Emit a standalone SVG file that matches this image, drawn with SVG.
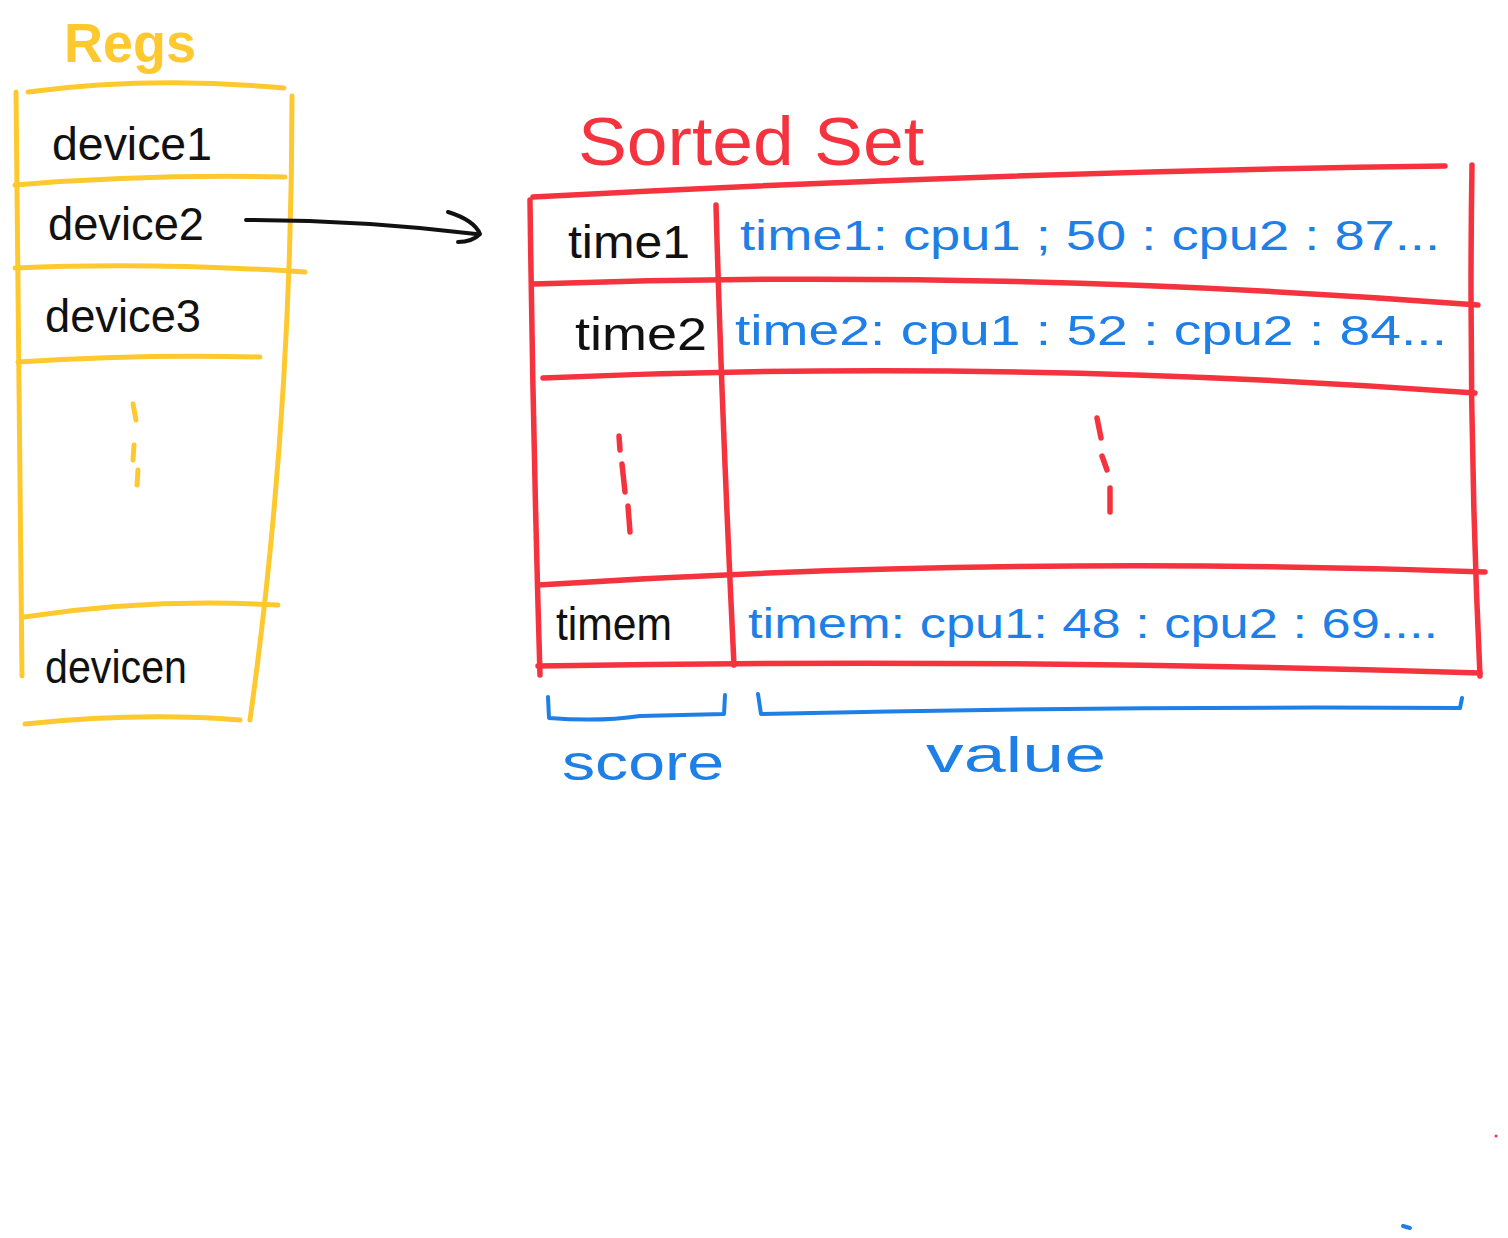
<svg xmlns="http://www.w3.org/2000/svg" width="1508" height="1238" viewBox="0 0 1508 1238">
<style>
.y{fill:none;stroke:#FDC92F;stroke-width:5;stroke-linecap:round;stroke-linejoin:round}
.r{fill:none;stroke:#F5333F;stroke-width:5.5;stroke-linecap:round;stroke-linejoin:round}
.b{fill:none;stroke:#1E7FE6;stroke-width:4;stroke-linecap:round;stroke-linejoin:round}
.k{fill:none;stroke:#111;stroke-width:4;stroke-linecap:round;stroke-linejoin:round}
text{font-family:"Liberation Sans","DejaVu Sans",sans-serif}
.tk{fill:#111;font-size:46px}
.tb{fill:#1E7FE6;font-size:42px}
</style>
<rect width="1508" height="1238" fill="#fff"/>

<g id="regs">
  <text x="64" y="62" fill="#FDC92F" font-size="56" font-weight="bold" textLength="132" lengthAdjust="spacingAndGlyphs">Regs</text>
  <path class="y" d="M28,92 Q150,76 284,88"/>
  <path class="y" d="M16,92 Q18,400 22,676"/>
  <path class="y" d="M292,96 Q292,420 250,720"/>
  <path class="y" d="M15,185 Q150,174 285,177"/>
  <path class="y" d="M15,268 Q150,262 305,272"/>
  <path class="y" d="M18,362 Q140,354 260,357"/>
  <path class="y" d="M24,617 Q150,598 278,605"/>
  <path class="y" d="M25,724 Q140,712 240,720"/>
  <path class="y" d="M133,404 L136,420 M134,445 L133,460 M138,470 L137,485"/>
</g>

<g id="device1"><text class="tk" x="52" y="160" textLength="160" lengthAdjust="spacingAndGlyphs">device1</text></g>
<g id="device2"><text class="tk" x="48" y="240" textLength="156" lengthAdjust="spacingAndGlyphs">device2</text></g>
<g id="device3"><text class="tk" x="45" y="332" textLength="156" lengthAdjust="spacingAndGlyphs">device3</text></g>
<g id="devicen"><text class="tk" x="45" y="683" textLength="142" lengthAdjust="spacingAndGlyphs">devicen</text></g>

<g id="connectors">
  <path class="k" d="M246,220 Q360,220 476,234"/>
  <path class="k" d="M448,212 Q474,220 480,234 Q472,242 458,242"/>
</g>

<g id="sorted-set">
  <text x="578" y="165" fill="#F5333F" font-size="68" textLength="346" lengthAdjust="spacingAndGlyphs">Sorted Set</text>
  <path class="r" d="M533,197 Q1000,172 1445,166"/>
  <path class="r" d="M530,200 Q533,440 540,675"/>
  <path class="r" d="M1472,165 Q1468,420 1480,676"/>
  <path class="r" d="M716,205 Q722,420 734,665"/>
  <path class="r" d="M533,284 Q1000,268 1478,305"/>
  <path class="r" d="M543,378 Q1000,358 1475,393"/>
  <path class="r" d="M538,585 Q1000,555 1485,572"/>
  <path class="r" d="M538,666 Q1000,658 1480,673"/>
  <path class="r" d="M619,436 L620,450 M622,464 L625,492 M628,506 L630,532"/>
  <path class="r" d="M1097,418 L1101,438 M1102,456 L1107,470 M1110,488 L1110,512"/>
</g>

<g id="row1">
  <text class="tk" x="568" y="258" textLength="122" lengthAdjust="spacingAndGlyphs">time1</text>
  <text class="tb" x="740" y="250" textLength="700" lengthAdjust="spacingAndGlyphs">time1: cpu1 ; 50 : cpu2 :  87...</text>
</g>
<g id="row2">
  <text class="tk" x="575" y="350" textLength="132" lengthAdjust="spacingAndGlyphs">time2</text>
  <text class="tb" x="735" y="345" textLength="712" lengthAdjust="spacingAndGlyphs">time2: cpu1 : 52 : cpu2 :  84...</text>
</g>
<g id="rowm">
  <text class="tk" x="556" y="640" textLength="116" lengthAdjust="spacingAndGlyphs">timem</text>
  <text class="tb" x="748" y="638" textLength="690" lengthAdjust="spacingAndGlyphs">timem: cpu1: 48 : cpu2 :  69....</text>
</g>

<g id="score">
  <path class="b" d="M548,697 L549,718 Q600,722 640,716 L724,714 L725,695"/>
  <text x="562" y="780" fill="#1E7FE6" font-size="50" textLength="162" lengthAdjust="spacingAndGlyphs">score</text>
</g>
<g id="value">
  <path class="b" d="M758,694 L761,714 Q1100,706 1460,708 L1462,698"/>
  <text x="926" y="772" fill="#1E7FE6" font-size="50" textLength="180" lengthAdjust="spacingAndGlyphs">value</text>
</g>

<circle cx="1496" cy="1136" r="1.5" fill="#F5333F"/>
<path class="b" d="M1403,1226 L1410,1228" stroke-width="3"/>
</svg>
